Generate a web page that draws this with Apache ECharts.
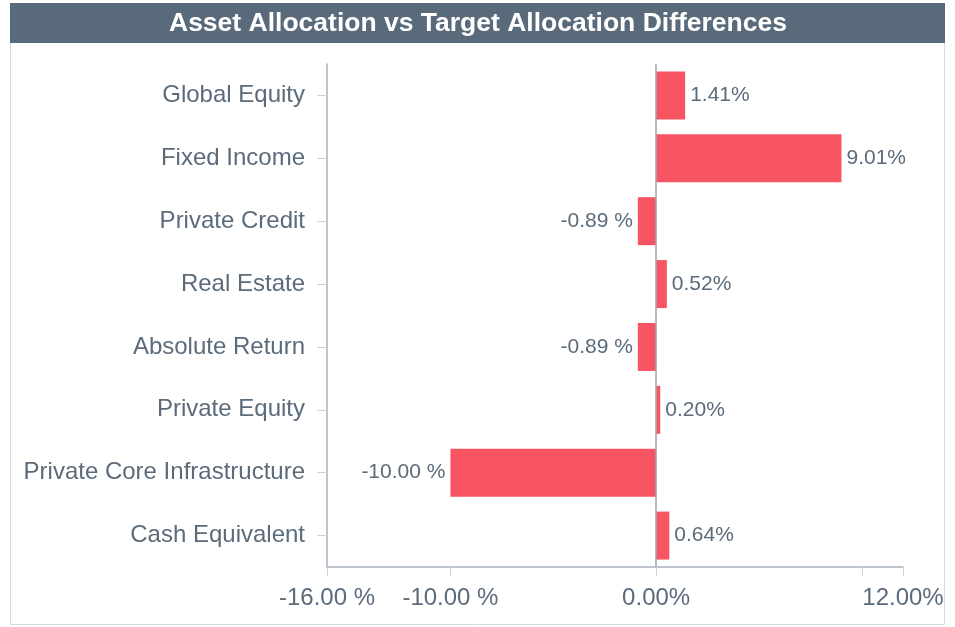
<!DOCTYPE html>
<html>
<head>
<meta charset="utf-8">
<script src="https://cdn.jsdelivr.net/npm/echarts@6/dist/echarts.min.js"></script>
<style>
  html, body { margin: 0; padding: 0; background: #fff; }
  #main { width: 955px; height: 627px; }
</style>
</head>
<body>
<div id="main"></div>
<script>
var categories = ['Global Equity', 'Fixed Income', 'Private Credit', 'Real Estate',
    'Absolute Return', 'Private Equity', 'Private Core Infrastructure', 'Cash Equivalent'];
var differences = [1.41, 9.01, -0.89, 0.52, -0.89, 0.20, -10.00, 0.64];
var labelTicks = [-16, -10, 0, 12];
var tickMarks = [-16, -10, 0, 10, 12];

var font = "'Liberation Sans', Arial, sans-serif";
var textColor = '#5b6b7b';

function fmt(v) {
    // negatives carry a space before the percent sign, as in the original
    return v < 0 ? v.toFixed(2) + ' %' : v.toFixed(2) + '%';
}

var myChart = echarts.init(document.getElementById('main'));
myChart.setOption({
    animation: false,
    backgroundColor: '#fff',
    graphic: [
        {
            type: 'rect',
            shape: { x: 10.5, y: 3.5, width: 934, height: 621 },
            style: { fill: 'none', stroke: '#d9d9d9', lineWidth: 1 },
            z: -1
        },
        {
            type: 'rect',
            shape: { x: 10, y: 3, width: 935, height: 40 },
            style: { fill: '#596a7a' }
        },
        {
            type: 'text',
            x: 478,
            y: 24,
            style: {
                text: 'Asset Allocation vs Target Allocation Differences',
                fill: '#fff',
                font: 'bold 26.5px ' + font,
                align: 'center',
                verticalAlign: 'middle'
            }
        }
    ],
    grid: { left: 327, right: 52, top: 64, bottom: 60 },
    xAxis: {
        type: 'value',
        min: -16,
        max: 12,
        axisLine: { show: true, lineStyle: { color: '#a9b3bd', width: 1.5 } },
        axisTick: {
            show: true,
            customValues: tickMarks,
            length: 9,
            lineStyle: { color: '#d0d4d8' }
        },
        axisLabel: {
            customValues: labelTicks,
            formatter: fmt,
            color: textColor,
            fontFamily: font,
            fontSize: 24,
            margin: 19
        },
        splitLine: { show: false }
    },
    yAxis: {
        type: 'category',
        data: categories,
        inverse: true,
        axisLine: { show: true, onZero: false, lineStyle: { color: '#a9b3bd', width: 1.5 } },
        axisTick: { show: true, alignWithLabel: true, length: 10, lineStyle: { color: '#d0d4d8' } },
        axisLabel: {
            color: textColor,
            fontFamily: font,
            fontSize: 24,
            margin: 22
        }
    },
    series: [{
        type: 'bar',
        data: differences.map(function (v) {
            return {
                value: v,
                label: { position: v < 0 ? 'left' : 'right' }
            };
        }),
        barWidth: 48,
        itemStyle: { color: '#f85563' },
        label: {
            show: true,
            formatter: function (p) { return fmt(p.value); },
            color: textColor,
            fontFamily: font,
            fontSize: 21,
            distance: 5
        },
        markLine: {
            silent: true,
            symbol: 'none',
            label: { show: false },
            lineStyle: { color: '#9aa6b2', type: 'solid', width: 1.5 },
            data: [{ xAxis: 0 }]
        }
    }]
});
</script>
</body>
</html>
